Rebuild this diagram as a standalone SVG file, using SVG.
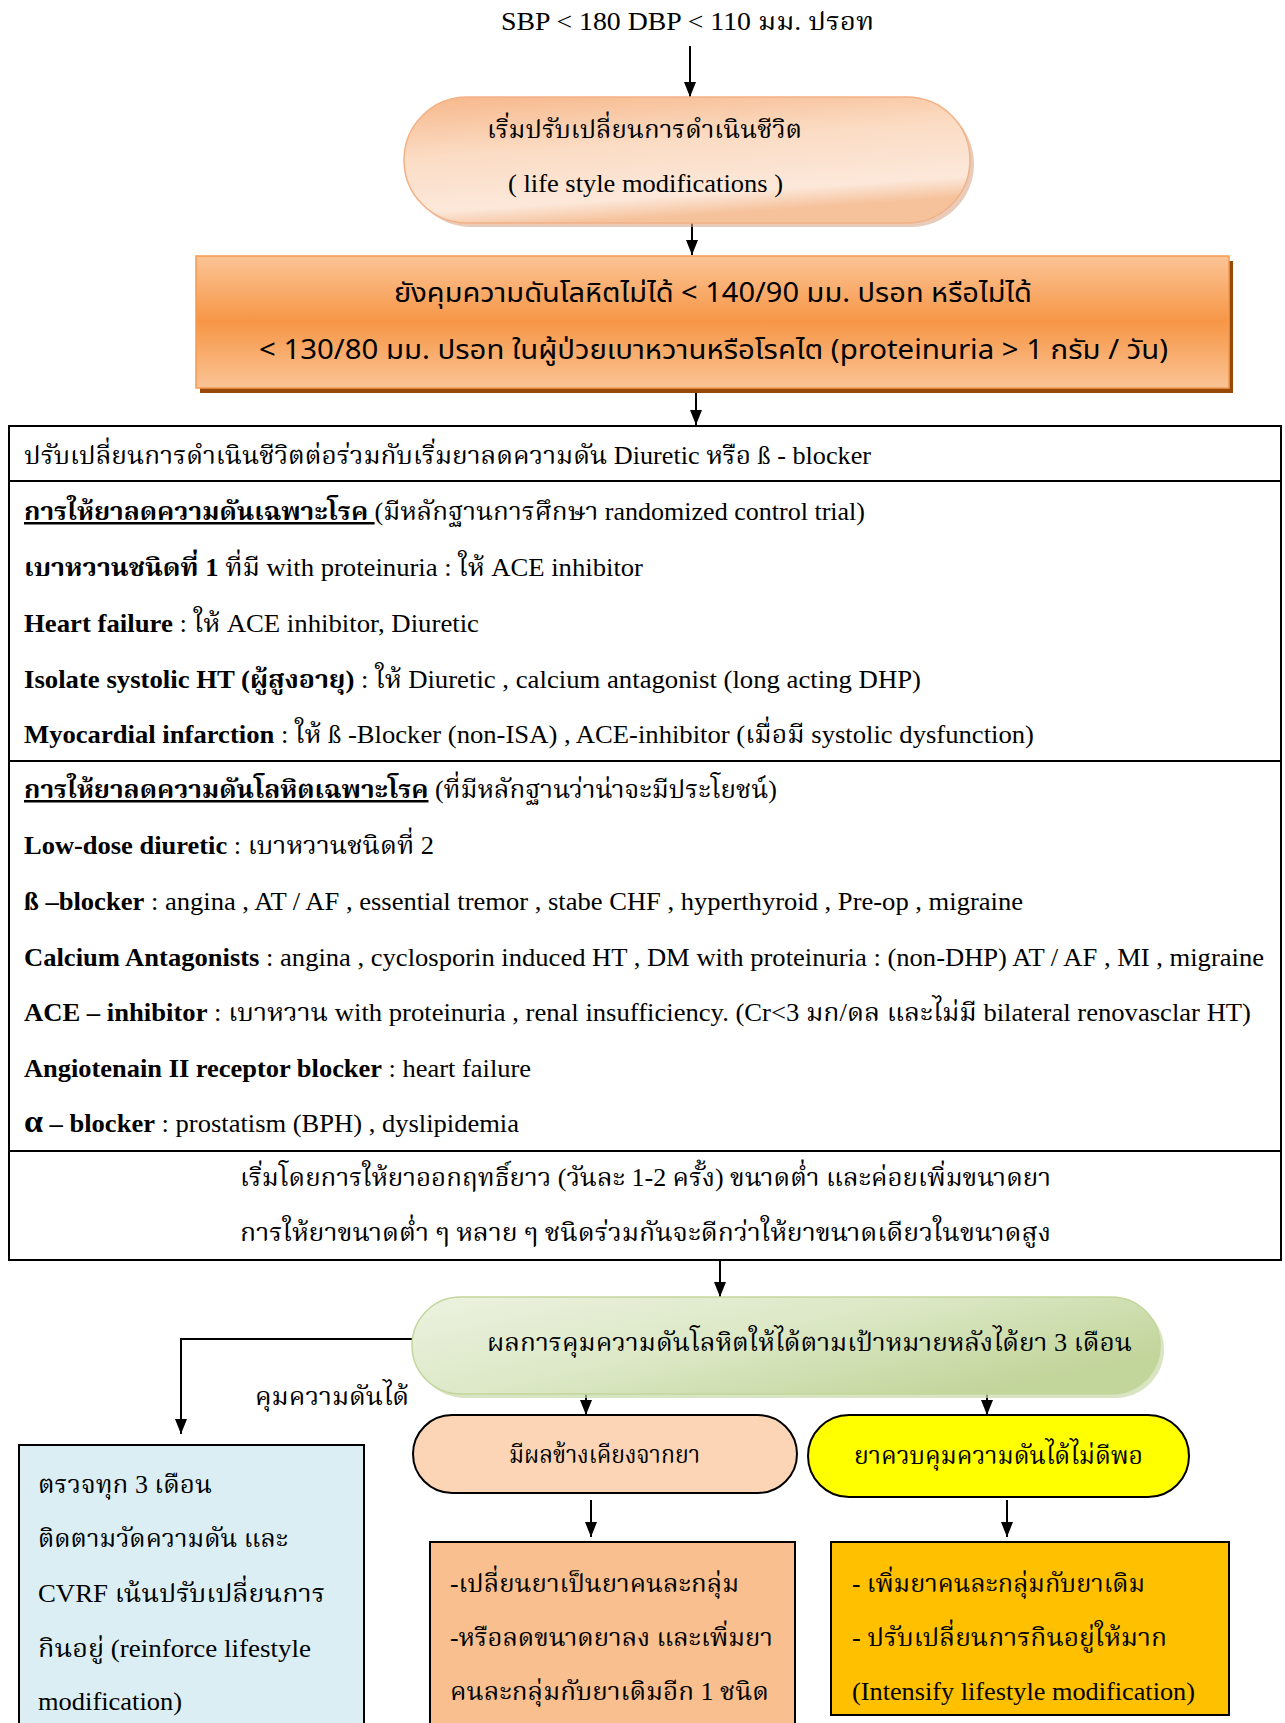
<svg xmlns="http://www.w3.org/2000/svg" width="1285" height="1723" viewBox="0 0 1285 1723">
<style>
.t{font-family:"Liberation Serif","Noto Serif Thai","Noto Sans Thai","DejaVu Serif",serif;font-size:25px;fill:#000}
.s{font-family:"Noto Sans","DejaVu Sans","Noto Sans Thai",sans-serif;font-size:27px;fill:#000}
.b{font-weight:bold}
.u{text-decoration:underline}
.ln{stroke:#000;stroke-width:2;fill:none}
.cn{stroke:#000;stroke-width:2;fill:none;marker-end:url(#ah)}
</style>
<defs>
<marker id="ah" markerWidth="15" markerHeight="12" refX="15" refY="6" orient="auto" markerUnits="userSpaceOnUse" viewBox="0 0 15 12">
<path d="M0,0 L15,6 L0,12 Z" fill="#000"/>
</marker>
<linearGradient id="g1" x1="0" y1="0" x2="0.3" y2="1">
<stop offset="0" stop-color="#f7b78a"/><stop offset="0.45" stop-color="#fbdcc4"/><stop offset="0.85" stop-color="#fce8da"/><stop offset="1" stop-color="#f6c29c"/>
</linearGradient>
<linearGradient id="g2" x1="0" y1="0" x2="0" y2="1">
<stop offset="0" stop-color="#fbc496"/><stop offset="0.5" stop-color="#f79646"/><stop offset="1" stop-color="#fac496"/>
</linearGradient>
<linearGradient id="g3" x1="0" y1="0" x2="1" y2="0.6">
<stop offset="0" stop-color="#ecf2e0"/><stop offset="0.5" stop-color="#dce8c6"/><stop offset="1" stop-color="#c2d59a"/>
</linearGradient>
</defs>

<g id="connectors">
<line class="cn" x1="690" y1="46" x2="690" y2="97"/>
<line class="cn" x1="692" y1="218" x2="692" y2="255"/>
<line class="cn" x1="696" y1="389" x2="696" y2="425"/>
<line class="cn" x1="720" y1="1261" x2="720" y2="1297"/>
<polyline class="cn" points="412,1339 181,1339 181,1434"/>
<line class="cn" x1="586" y1="1380" x2="586" y2="1415"/>
<line class="cn" x1="987" y1="1380" x2="987" y2="1415"/>
<line class="cn" x1="591" y1="1500" x2="591" y2="1537"/>
<line class="cn" x1="1007" y1="1500" x2="1007" y2="1537"/>
<text class="t" x="255" y="1405" textLength="154" lengthAdjust="spacingAndGlyphs">คุมความดันได้</text>
</g>

<g id="n-top">
<text class="t" x="501" y="30" textLength="373" lengthAdjust="spacingAndGlyphs">SBP &lt; 180 DBP  &lt;  110 มม. ปรอท</text>
</g>

<g id="n-lifestyle">
<rect x="408" y="101" width="566" height="126" rx="63" fill="#d9a98a" opacity="0.6"/>
<rect x="404" y="97" width="566" height="126" rx="63" fill="url(#g1)" stroke="#f3b186" stroke-width="1.5"/>
<text class="t" x="487" y="138" textLength="315" lengthAdjust="spacingAndGlyphs">เริ่มปรับเปลี่ยนการดำเนินชีวิต</text>
<text class="t" x="508" y="192" textLength="275" lengthAdjust="spacingAndGlyphs">( life style modifications )</text>
</g>

<g id="n-uncontrolled">
<rect x="200" y="261" width="1033" height="132" fill="#984807"/>
<rect x="196" y="256" width="1033" height="132" fill="url(#g2)" stroke="#f59a52" stroke-width="1.5"/>
<text class="s" x="394" y="302" textLength="638" lengthAdjust="spacingAndGlyphs">ยังคุมความดันโลหิตไม่ได้ &lt; 140/90 มม. ปรอท หรือไม่ได้</text>
<text class="s" x="259" y="359" textLength="909" lengthAdjust="spacingAndGlyphs">&lt; 130/80 มม. ปรอท ในผู้ป่วยเบาหวานหรือโรคไต (proteinuria  &gt; 1 กรัม / วัน)</text>
</g>

<g id="n-table">
<rect x="9" y="426" width="1272" height="834" fill="#fff" stroke="#000" stroke-width="2"/>
<line class="ln" x1="9" y1="481" x2="1281" y2="481"/>
<line class="ln" x1="9" y1="761" x2="1281" y2="761"/>
<line class="ln" x1="9" y1="1151" x2="1281" y2="1151"/>
<text class="t" x="24" y="464" textLength="847" lengthAdjust="spacingAndGlyphs">ปรับเปลี่ยนการดำเนินชีวิตต่อร่วมกับเริ่มยาลดความดัน Diuretic หรือ ß - blocker</text>

<text class="t" x="24" y="520" textLength="841" lengthAdjust="spacingAndGlyphs"><tspan class="b u">การให้ยาลดความดันเฉพาะโรค </tspan> (มีหลักฐานการศึกษา  randomized control trial)</text>
<text class="t" x="24" y="576" textLength="619" lengthAdjust="spacingAndGlyphs"><tspan class="b">เบาหวานชนิดที่ 1</tspan> ที่มี  with proteinuria : ให้ ACE inhibitor</text>
<text class="t" x="24" y="632" textLength="455" lengthAdjust="spacingAndGlyphs"><tspan class="b">Heart failure</tspan> : ให้ ACE inhibitor, Diuretic</text>
<text class="t" x="24" y="688" textLength="897" lengthAdjust="spacingAndGlyphs"><tspan class="b">Isolate systolic HT (ผู้สูงอายุ)</tspan> : ให้  Diuretic , calcium antagonist  (long acting DHP)</text>
<text class="t" x="24" y="743" textLength="1010" lengthAdjust="spacingAndGlyphs"><tspan class="b">Myocardial infarction</tspan> : ให้ ß -Blocker (non-ISA) , ACE-inhibitor (เมื่อมี  systolic dysfunction)</text>

<text class="t" x="24" y="798" textLength="753" lengthAdjust="spacingAndGlyphs"><tspan class="b u">การให้ยาลดความดันโลหิตเฉพาะโรค</tspan> (ที่มีหลักฐานว่าน่าจะมีประโยชน์)</text>
<text class="t" x="24" y="854" textLength="410" lengthAdjust="spacingAndGlyphs"><tspan class="b">Low-dose diuretic</tspan> : เบาหวานชนิดที่ 2</text>
<text class="t" x="24" y="910" textLength="999" lengthAdjust="spacingAndGlyphs"><tspan class="b">ß –blocker</tspan> : angina , AT / AF , essential tremor , stabe CHF , hyperthyroid , Pre-op , migraine</text>
<text class="t" x="24" y="966" textLength="1240" lengthAdjust="spacingAndGlyphs"><tspan class="b">Calcium Antagonists</tspan> : angina , cyclosporin induced HT , DM with proteinuria : (non-DHP) AT / AF , MI , migraine</text>
<text class="t" x="24" y="1021" textLength="1227" lengthAdjust="spacingAndGlyphs"><tspan class="b">ACE – inhibitor</tspan> : เบาหวาน with proteinuria , renal insufficiency. (Cr&lt;3 มก/ดล และไม่มี  bilateral renovasclar HT)</text>
<text class="t" x="24" y="1077" textLength="507" lengthAdjust="spacingAndGlyphs"><tspan class="b">Angiotenain II receptor blocker</tspan> : heart failure</text>
<text class="t" x="24" y="1132" textLength="495" lengthAdjust="spacingAndGlyphs"><tspan class="b" font-size="32">α</tspan><tspan class="b"> – blocker</tspan> : prostatism (BPH) , dyslipidemia</text>

<text class="t" x="240" y="1186" textLength="811" lengthAdjust="spacingAndGlyphs">เริ่มโดยการให้ยาออกฤทธิ์ยาว (วันละ 1-2 ครั้ง) ขนาดต่ำ และค่อยเพิ่มขนาดยา</text>
<text class="t" x="240" y="1241" textLength="811" lengthAdjust="spacingAndGlyphs">การให้ยาขนาดต่ำ ๆ หลาย ๆ ชนิดร่วมกันจะดีกว่าให้ยาขนาดเดียวในขนาดสูง</text>
</g>

<g id="n-result">
<rect x="416" y="1301" width="748" height="97" rx="48.5" fill="#c9d9a8" opacity="0.7"/>
<rect x="412" y="1297" width="748" height="97" rx="48.5" fill="url(#g3)" stroke="#c3d69b" stroke-width="1.5"/>
<text class="t" x="487" y="1351" textLength="645" lengthAdjust="spacingAndGlyphs">ผลการคุมความดันโลหิตให้ได้ตามเป้าหมายหลังได้ยา 3 เดือน</text>
</g>

<g id="n-sideeffect">
<rect x="413" y="1415" width="384" height="78" rx="39" fill="#fbd5b5" stroke="#000" stroke-width="2"/>
<text class="t" x="509" y="1463" textLength="191" lengthAdjust="spacingAndGlyphs">มีผลข้างเคียงจากยา</text>
</g>

<g id="n-poor">
<rect x="808" y="1415" width="381" height="82" rx="41" fill="#ffff00" stroke="#000" stroke-width="2"/>
<text class="t" x="854" y="1464" textLength="289" lengthAdjust="spacingAndGlyphs">ยาควบคุมความดันได้ไม่ดีพอ</text>
</g>

<g id="n-followup">
<rect x="19" y="1445" width="345" height="290" fill="#daeef3" stroke="#000" stroke-width="2"/>
<text class="t" x="38" y="1493" textLength="174" lengthAdjust="spacingAndGlyphs">ตรวจทุก 3 เดือน</text>
<text class="t" x="38" y="1547" textLength="250" lengthAdjust="spacingAndGlyphs">ติดตามวัดความดัน และ</text>
<text class="t" x="38" y="1602" textLength="287" lengthAdjust="spacingAndGlyphs">CVRF  เน้นปรับเปลี่ยนการ</text>
<text class="t" x="38" y="1657" textLength="273" lengthAdjust="spacingAndGlyphs">กินอยู่  (reinforce lifestyle</text>
<text class="t" x="38" y="1710" textLength="144" lengthAdjust="spacingAndGlyphs">modification)</text>
</g>

<g id="n-change">
<rect x="430" y="1542" width="365" height="193" fill="#f9bf8f" stroke="#000" stroke-width="2"/>
<text class="t" x="450" y="1592" textLength="289" lengthAdjust="spacingAndGlyphs">-เปลี่ยนยาเป็นยาคนละกลุ่ม</text>
<text class="t" x="450" y="1646" textLength="323" lengthAdjust="spacingAndGlyphs">-หรือลดขนาดยาลง และเพิ่มยา</text>
<text class="t" x="450" y="1700" textLength="319" lengthAdjust="spacingAndGlyphs">คนละกลุ่มกับยาเดิมอีก 1 ชนิด</text>
</g>

<g id="n-add">
<rect x="831" y="1542" width="398" height="173" fill="#ffc000" stroke="#000" stroke-width="2"/>
<text class="t" x="852" y="1592" textLength="293" lengthAdjust="spacingAndGlyphs">- เพิ่มยาคนละกลุ่มกับยาเดิม</text>
<text class="t" x="852" y="1646" textLength="315" lengthAdjust="spacingAndGlyphs">- ปรับเปลี่ยนการกินอยู่ให้มาก</text>
<text class="t" x="852" y="1700" textLength="343" lengthAdjust="spacingAndGlyphs">(Intensify lifestyle modification)</text>
</g>
</svg>
